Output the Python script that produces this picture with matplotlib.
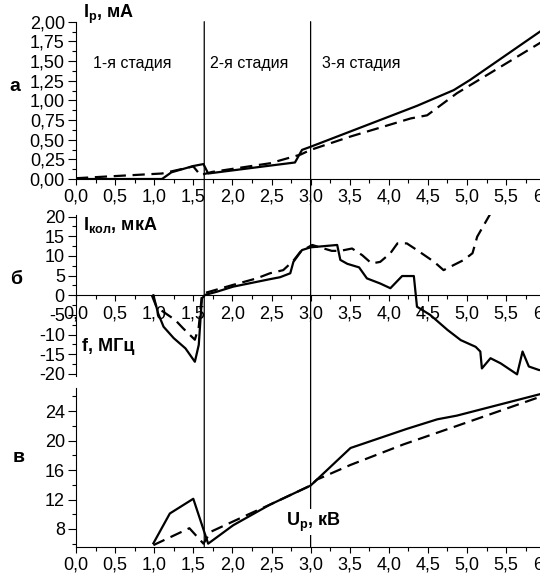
import matplotlib
matplotlib.use("Agg")
import matplotlib.pyplot as plt
from matplotlib.patches import ConnectionPatch
from matplotlib.ticker import MultipleLocator, FuncFormatter

plt.rcParams['font.family'] = ['Liberation Sans', 'DejaVu Sans']
plt.rcParams['axes.unicode_minus'] = False
plt.rcParams['mathtext.fontset'] = 'custom'
plt.rcParams['mathtext.rm'] = 'Liberation Sans'
plt.rcParams['mathtext.bf'] = 'Liberation Sans:bold'
plt.rcParams['mathtext.it'] = 'Liberation Sans:italic'

# panel a: discharge current Ip, mA
a_solid_x = [0, 1.1, 1.22, 1.5, 1.63, 1.69, 2.48, 2.8, 2.89, 3.0, 4.36, 4.83, 5.04, 6.0]
a_solid_y = [0, 0, 0.085, 0.165, 0.19, 0.07, 0.17, 0.21, 0.37, 0.41, 0.93, 1.13, 1.26, 1.92]
a_dash_x = [0, 1.1, 1.5, 1.59, 1.74, 2.48, 2.87, 3.0, 3.51, 4.28, 4.49, 4.87, 6.0]
a_dash_y = [0.01, 0.07, 0.16, 0.05, 0.09, 0.2, 0.31, 0.37, 0.54, 0.77, 0.81, 1.09, 1.77]

# panel b: collector current, uA
b_solid_x = [0.99, 1.05, 1.12, 1.25, 1.40, 1.52, 1.57, 1.61, 1.65, 1.80, 2.01, 2.48,
             2.61, 2.74, 2.78, 2.89, 3.0, 3.34, 3.38, 3.47, 3.62, 3.72, 3.89, 4.02,
             4.17, 4.32, 4.36, 4.53, 4.75, 4.92, 5.11, 5.17, 5.19, 5.30, 5.43, 5.64,
             5.71, 5.79, 5.92, 6.0]
b_solid_y = [0, -4.6, -8, -10.9, -13.5, -16.9, -12.6, -0.8, 0.1, 0.9, 2.2, 4.1,
             4.6, 5.6, 8.5, 11.5, 12.2, 12.8, 9.0, 8.0, 7.1, 4.3, 3.0, 1.8,
             4.9, 4.9, -2.9, -5.0, -8.8, -11.4, -13.1, -14.3, -18.6, -16.0, -17.3, -20.1,
             -14.3, -18.1, -19.0, -19.1]
b_dash_x = [0.97, 1.03, 1.27, 1.37, 1.52, 1.57, 1.61, 1.65, 2.0, 2.31, 2.48, 2.65,
            2.78, 2.87, 3.02, 3.12, 3.27, 3.38, 3.53, 3.66, 3.78, 3.89, 4.02, 4.11,
            4.23, 4.36, 4.58, 4.70, 4.96, 5.07, 5.13, 5.30]
b_dash_y = [0, -3, -6.3, -8.4, -11.3, -8, 0, 0.6, 2.6, 4.3, 5.6, 6.4,
            8.8, 11.1, 12.8, 12.2, 11.3, 11.3, 11.9, 10.2, 8.1, 8.5, 10.7, 13.2,
            13.2, 11.5, 8.5, 6.4, 9.0, 10.7, 14.9, 20.8]

# panel c: frequency f, MHz
c_solid_x = [0.99, 1.20, 1.50, 1.69, 2.01, 2.48, 3.0, 3.51, 4.23, 4.62, 4.87, 6.0]
c_solid_y = [6.05, 10.1, 12.1, 6.0, 8.5, 11.3, 13.9, 19.0, 21.6, 22.9, 23.4, 26.5]
c_dash_x = [0.99, 1.45, 1.63, 1.72, 2.23, 2.48, 3.0, 3.08, 3.51, 4.19, 4.87, 6.0]
c_dash_y = [5.8, 8.1, 6.0, 7.6, 10.1, 11.3, 13.9, 14.7, 16.7, 19.5, 22.0, 26.2]

stage_bounds = [1.64, 3.0]

fig = plt.figure(figsize=(5.4, 5.78), dpi=100)
fig.patch.set_facecolor('white')

ax1 = fig.add_axes([0.1407, 0.6903, 0.869, 0.2722])
ax2 = fig.add_axes([0.1407, 0.3503, 0.869, 0.2776])
ax3 = fig.add_axes([0.1407, 0.0542, 0.869, 0.2751])

lw = 1.6
dash = (0, (5.5, 3))


def comma(fmt):
    return FuncFormatter(lambda v, p: (fmt % v).replace('.', ','))


for ax in (ax1, ax2, ax3):
    ax.set_facecolor('none')
    ax.spines['top'].set_visible(False)
    ax.spines['right'].set_visible(False)
    ax.spines['left'].set_linewidth(0.8)
    ax.spines['bottom'].set_linewidth(0.8)
    ax.set_xlim(0, 6)
    ax.xaxis.set_major_locator(MultipleLocator(0.5))
    ax.xaxis.set_minor_locator(MultipleLocator(0.25))
    ax.xaxis.set_major_formatter(comma('%.1f'))
    ax.tick_params(axis='both', which='major', labelsize=13, width=0.8)
    ax.tick_params(axis='x', which='major', length=4, pad=3)
    ax.tick_params(axis='x', which='minor', length=3, width=0.8)
    ax.tick_params(axis='y', which='major', length=6, pad=2)
    ax.tick_params(axis='y', which='minor', length=3, width=0.8)

ax1.plot(a_solid_x, a_solid_y, color='black', lw=lw)
ax1.plot(a_dash_x, a_dash_y, color='black', lw=lw, linestyle=dash)
ax1.set_ylim(0, 2)
ax1.yaxis.set_major_locator(MultipleLocator(0.25))
ax1.yaxis.set_minor_locator(MultipleLocator(0.125))
ax1.yaxis.set_major_formatter(comma('%.2f'))
ax1.text(0.09, 2.09, r'$\mathbf{I_{p}}$, мА', fontsize=13, fontweight='bold',
         va='center', clip_on=False)
ax1.text(0.22, 1.47, '1-я стадия', fontsize=11.5, va='center')
ax1.text(1.72, 1.47, '2-я стадия', fontsize=11.5, va='center')
ax1.text(3.15, 1.47, '3-я стадия', fontsize=11.5, va='center')

ax2.plot(b_solid_x, b_solid_y, color='black', lw=lw, clip_on=True)
ax2.plot(b_dash_x, b_dash_y, color='black', lw=lw, linestyle=dash, clip_on=True)
ax2.set_ylim(-20.4, 20.4)
ax2.spines['bottom'].set_position(('data', 0))
ax2.yaxis.set_major_locator(MultipleLocator(5))
ax2.yaxis.set_minor_locator(MultipleLocator(2.5))
ax2.yaxis.set_major_formatter(FuncFormatter(lambda v, p: '%d' % round(v)))
ax2.text(0.09, 17.9, r'$\mathbf{I_{кол}}$, мкА', fontsize=13, fontweight='bold', va='center')
ax2.text(0.08, -13.1, 'f, МГц', fontsize=13, fontweight='bold', va='center')

ax3.plot(c_solid_x, c_solid_y, color='black', lw=lw)
ax3.plot(c_dash_x, c_dash_y, color='black', lw=lw, linestyle=dash)
ax3.set_ylim(5.59, 27.2)
ax3.yaxis.set_major_locator(MultipleLocator(4))
ax3.yaxis.set_minor_locator(MultipleLocator(2))
ax3.yaxis.set_major_formatter(FuncFormatter(lambda v, p: '%d' % round(v)))
ax3.text(2.69, 8.95, r'$\mathbf{U_{p}}$, кВ', fontsize=13, fontweight='bold', va='center',
         bbox=dict(facecolor='white', edgecolor='none', pad=1))

# stage boundaries run through all three panels
for xb in stage_bounds:
    con = ConnectionPatch(xyA=(xb, 2.0), coordsA=ax1.transData,
                          xyB=(xb, 5.59), coordsB=ax3.transData,
                          color='black', lw=0.9, zorder=-1)
    fig.add_artist(con)

fig.text(0.028, 0.851, 'а', fontsize=14, fontweight='bold', ha='center', va='center')
fig.text(0.030, 0.516, 'б', fontsize=14, fontweight='bold', ha='center', va='center')
fig.text(0.035, 0.209, 'в', fontsize=14, fontweight='bold', ha='center', va='center')

fig.savefig('out.png', dpi=100, facecolor='white')
